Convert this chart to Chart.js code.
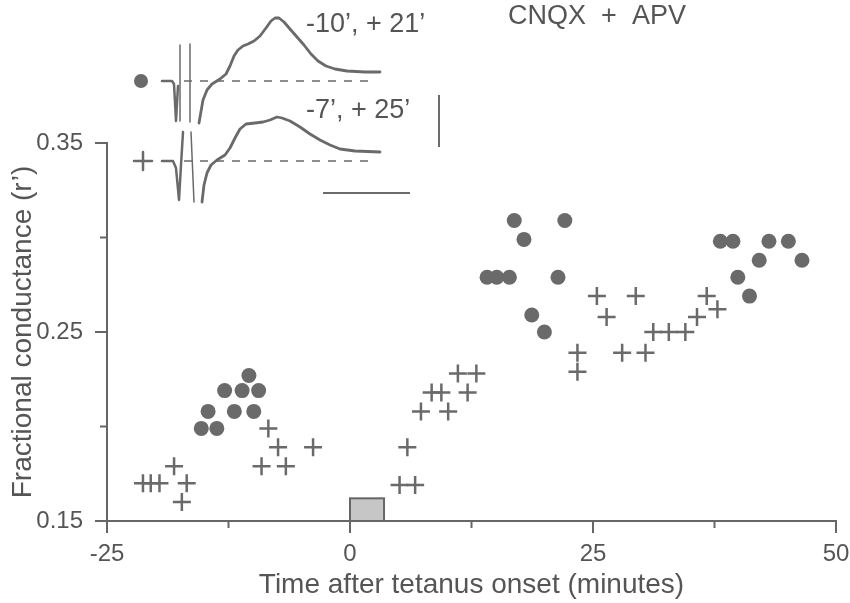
<!DOCTYPE html>
<html>
<head>
<meta charset="utf-8">
<script src="https://cdn.jsdelivr.net/npm/chart.js@4/dist/chart.umd.min.js"></script>
<style>
html, body { margin: 0; padding: 0; background: #fff; }
#wrap { width: 850px; height: 603px; }
</style>
</head>
<body>
<div id="wrap"><canvas id="conductanceChart" width="850" height="603"></canvas></div>
<script>
// filled circles
const dotTimes = [-15.3, -13.7, -14.6, -11.9, -9.9, -12.9, -11.1, -9.4, -10.4,
    14.1, 15.1, 16.4, 16.9, 17.9, 18.7, 20.0, 21.4, 22.1,
    38.1, 39.4, 39.9, 41.1, 42.1, 43.1, 45.1, 46.5];
const dotValues = [0.199, 0.199, 0.208, 0.208, 0.208, 0.219, 0.219, 0.219, 0.227,
    0.279, 0.279, 0.279, 0.309, 0.299, 0.259, 0.250, 0.279, 0.309,
    0.298, 0.298, 0.279, 0.269, 0.288, 0.298, 0.298, 0.288];

// crosses
const crossTimes = [-21.3, -20.5, -19.6, -18.1, -17.3, -16.8, -9.1, -8.4, -7.4, -6.6, -3.8,
    5.1, 6.7, 5.9, 7.3, 10.1, 8.4, 9.4, 12.1, 11.1, 13.0,
    23.4, 23.4, 25.4, 26.4, 28.0, 29.4, 30.4, 31.2, 32.8, 34.5, 35.7, 36.7, 37.8];
const crossValues = [0.170, 0.170, 0.170, 0.179, 0.160, 0.170, 0.179, 0.199, 0.189, 0.179, 0.189,
    0.169, 0.169, 0.189, 0.208, 0.208, 0.218, 0.218, 0.218, 0.228, 0.228,
    0.239, 0.229, 0.269, 0.258, 0.239, 0.269, 0.239, 0.250, 0.250, 0.250, 0.258, 0.269, 0.262];

// tetanus bar
const stimStart = 0, stimEnd = 3.5, stimTop = 0.162;

const xTicks = [-25, -12.5, 0, 12.5, 25, 37.5, 50];
const xTickLabels = ['-25', '', '0', '', '25', '', '50'];
const yTicks = [0.15, 0.20, 0.25, 0.30, 0.35];
const yTickLabels = ['0.15', '', '0.25', '', '0.35'];

// inset traces (canvas pixels, it is a picture not data)
const topTrace = [[199,123],[203,100],[207,90],[212,84],[220,79],[226,74],[230,66],[234,56],[238,50],[243,46],
    [248,44],[254,41],[260,36],[266,28],[271,21],[275,18],[279,18],[284,22],[290,29],[297,37],[304,45],
    [311,54],[318,61],[326,66],[335,69],[347,71],[365,72],[380,72]];
const bottomTrace = [[202,202],[204,185],[207,173],[211,165],[217,160],[225,155],[230,148],[235,138],[240,129],
    [246,124],[255,123],[263,122],[270,120],[277,117],[282,118],[290,121],[300,127],[310,134],[320,140],
    [330,145],[340,149],[355,151],[380,152]];

const ink = '#6a6a6a';
const textInk = '#555';
const fontFam = "'Liberation Sans', Arial, Helvetica, sans-serif";

function line(ctx, pts) {
    ctx.beginPath();
    ctx.moveTo(pts[0][0], pts[0][1]);
    for (let i = 1; i < pts.length; i++) ctx.lineTo(pts[i][0], pts[i][1]);
    ctx.stroke();
}

const extrasPlugin = {
    id: 'extras',
    beforeDatasetsDraw(chart) {
        const ctx = chart.ctx;
        const xs = chart.scales.x, ys = chart.scales.y;
        const area = chart.chartArea;
        ctx.save();
        ctx.strokeStyle = '#666';
        ctx.lineWidth = 2;
        // tick marks, labelled ones longer
        xTicks.forEach((v, i) => {
            const px = xs.getPixelForValue(v);
            line(ctx, [[px, area.bottom], [px, area.bottom + (xTickLabels[i] ? 12 : 7)]]);
        });
        yTicks.forEach((v, i) => {
            const py = ys.getPixelForValue(v);
            line(ctx, [[area.left, py], [area.left - (yTickLabels[i] ? 12 : 7), py]]);
        });

        const x0 = xs.getPixelForValue(stimStart), x1 = xs.getPixelForValue(stimEnd);
        const y0 = ys.getPixelForValue(stimTop), y1 = ys.getPixelForValue(0.15);
        ctx.fillStyle = '#c6c6c6';
        ctx.fillRect(x0, y0, x1 - x0, y1 - y0);
        ctx.strokeRect(x0, y0, x1 - x0, y1 - y0);
        ctx.restore();
    },
    afterDraw(chart) {
        const ctx = chart.ctx;
        ctx.save();
        ctx.strokeStyle = ink;
        ctx.fillStyle = ink;
        ctx.lineJoin = 'round';
        ctx.lineCap = 'round';

        // markers
        ctx.beginPath();
        ctx.arc(141, 81, 7, 0, Math.PI * 2);
        ctx.fill();
        ctx.lineWidth = 2.5;
        line(ctx, [[134, 161], [152, 161]]);
        line(ctx, [[143, 152], [143, 170]]);

        // stimulus artefacts
        ctx.lineWidth = 2.5;
        line(ctx, [[162, 81], [172, 81], [174, 84], [176, 121], [178, 86]]);
        line(ctx, [[162, 161], [173, 161], [176, 168], [179, 200], [181, 165], [183, 132]]);
        ctx.lineWidth = 1.5;
        line(ctx, [[180, 45], [180, 121]]);
        line(ctx, [[190, 44], [190, 122]]);
        line(ctx, [[191, 132], [194, 202]]);

        // responses
        ctx.lineWidth = 2.8;
        line(ctx, topTrace);
        line(ctx, bottomTrace);

        // baselines
        ctx.lineWidth = 1.5;
        ctx.lineCap = 'butt';
        ctx.setLineDash([8, 8]);
        line(ctx, [[184, 81], [370, 81]]);
        line(ctx, [[184, 161], [370, 161]]);
        ctx.setLineDash([]);

        // scale bars
        ctx.lineWidth = 2;
        line(ctx, [[439, 95], [439, 147]]);
        line(ctx, [[323, 193], [410, 193]]);

        // labels
        ctx.fillStyle = textInk;
        ctx.font = '27px ' + fontFam;
        ctx.textBaseline = 'middle';
        ctx.textAlign = 'left';
        ctx.fillText('-10\u2019, + 21\u2019', 306, 25);
        ctx.fillText('-7\u2019, + 25\u2019', 306, 111);
        ctx.textAlign = 'center';
        ctx.fillText('CNQX  +  APV', 597, 17);
        ctx.restore();
    }
};

const ctx = document.getElementById('conductanceChart').getContext('2d');
new Chart(ctx, {
    type: 'scatter',
    data: {
        datasets: [
            {
                label: 'dots',
                data: dotTimes.map((t, i) => ({ x: t, y: dotValues[i] })),
                pointStyle: 'circle',
                pointRadius: 7.5,
                backgroundColor: ink,
                borderColor: ink,
                borderWidth: 0
            },
            {
                label: 'crosses',
                data: crossTimes.map((t, i) => ({ x: t, y: crossValues[i] })),
                pointStyle: 'cross',
                pointRadius: 9,
                borderColor: ink,
                borderWidth: 2.5
            }
        ]
    },
    options: {
        responsive: false,
        animation: false,
        devicePixelRatio: 1,
        layout: { padding: { top: 143, right: 14, left: 0, bottom: 0 } },
        plugins: { legend: { display: false }, tooltip: { enabled: false } },
        scales: {
            x: {
                type: 'linear',
                min: -25,
                max: 50,
                afterBuildTicks: s => { s.ticks = xTicks.map(v => ({ value: v })); },
                afterFit: s => { s.height = 82; s.paddingLeft = 0; s.paddingRight = 0; },
                ticks: {
                    autoSkip: false,
                    maxRotation: 0,
                    padding: 19,
                    color: textInk,
                    font: { family: fontFam, size: 24 },
                    callback: (v, i) => xTickLabels[i]
                },
                grid: { drawOnChartArea: false, drawTicks: false },
                border: { display: true, color: '#666', width: 2 },
                title: {
                    display: true,
                    text: 'Time after tetanus onset (minutes)',
                    color: textInk,
                    font: { family: fontFam, size: 28 },
                    padding: { top: 0, bottom: 1 }
                }
            },
            y: {
                type: 'linear',
                min: 0.15,
                max: 0.35,
                afterBuildTicks: s => { s.ticks = yTicks.map(v => ({ value: v })); },
                afterFit: s => { s.width = 107; s.paddingTop = 0; s.paddingBottom = 0; },
                ticks: {
                    autoSkip: false,
                    padding: 24,
                    color: textInk,
                    font: { family: fontFam, size: 24 },
                    callback: (v, i) => yTickLabels[i]
                },
                grid: { drawOnChartArea: false, drawTicks: false },
                border: { display: true, color: '#666', width: 2 },
                title: {
                    display: true,
                    text: 'Fractional conductance (r\u2019)',
                    color: textInk,
                    font: { family: fontFam, size: 28 },
                    padding: { top: 6, bottom: 0 }
                }
            }
        }
    },
    plugins: [extrasPlugin]
});
</script>
</body>
</html>
